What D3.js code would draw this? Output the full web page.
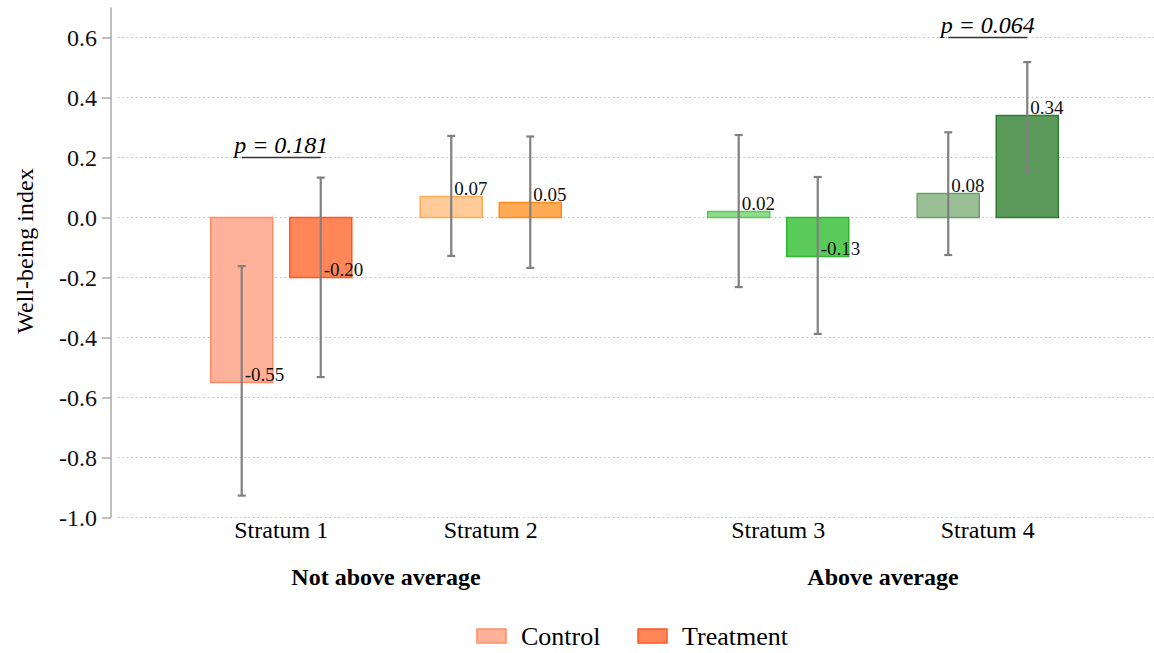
<!DOCTYPE html>
<html>
<head>
<meta charset="utf-8">
<script src="https://cdn.jsdelivr.net/npm/d3@7"></script>
<style>
  body { margin: 0; background: #fff; }
  svg, svg text { font-family: "Liberation Serif", "Times New Roman", Times, serif !important; }
</style>
</head>
<body>
<script>
// Data
const groups = ["Not above average", "Above average"];
const strata = [["Stratum 1", "Stratum 2"], ["Stratum 3", "Stratum 4"]];
const conditions = ["Control", "Treatment"];
const means = [[-0.55, -0.20], [0.07, 0.05], [0.02, -0.13], [0.08, 0.34]];
const ciLow = [[-0.927, -0.532], [-0.128, -0.168], [-0.232, -0.388], [-0.125, 0.153]];
const ciHigh = [[-0.162, 0.133], [0.272, 0.270], [0.275, 0.135], [0.284, 0.518]];
const fills = [["#ffb299", "#ff8659"], ["#ffcc99", "#ffaa55"], ["#8fdb8a", "#5acb5a"], ["#9abf96", "#5b9a5b"]];
const strokes = [["#ff8c66", "#ff5722"], ["#ffaa55", "#ff8c1a"], ["#5acb5a", "#2eb82e"], ["#6a9f66", "#2e7d32"]];
const pStratum = ["Stratum 1", "Stratum 4"];
const pLabels = ["0.181", "0.064"];
const pLevel = [0.2, 0.6];
const yTicks = [-1.0, -0.8, -0.6, -0.4, -0.2, 0.0, 0.2, 0.4, 0.6];

// Dimensions
const W = 1154, H = 653;
const axisX = 111;
const serif = "'Liberation Serif', 'Times New Roman', serif";

const svg = d3.select("body")
    .append("svg")
    .attr("width", W)
    .attr("height", H)
    .attr("font-family", serif);

const y = d3.scaleLinear()
    .domain([-1.0, 0.7])
    .range([517.5, 7.5]);

const xGroup = d3.scaleBand()
    .domain(groups)
    .range([137.5, 1131.5]);

const xStratum = d3.scaleBand()
    .range([0, xGroup.bandwidth()])
    .paddingOuter(0.186);

const xCond = d3.scaleBand()
    .domain(conditions)
    .range([0, 209.5])
    .paddingInner(0.215)
    .paddingOuter(0.433);

// flatten rows
const rows = [];
groups.forEach((g, gi) => {
    strata[gi].forEach((s, si) => {
        const k = gi * 2 + si;
        const sx = xGroup(g) + xStratum.domain(strata[gi])(s);
        conditions.forEach((c, ci) => {
            rows.push({
                stratum: s, cond: c,
                x: sx + xCond(c),
                mean: means[k][ci], lo: ciLow[k][ci], hi: ciHigh[k][ci],
                fill: fills[k][ci], stroke: strokes[k][ci]
            });
        });
    });
});
const stratumCenter = {};
groups.forEach((g, gi) => strata[gi].forEach(s => {
    stratumCenter[s] = xGroup(g) + xStratum.domain(strata[gi])(s) + xStratum.bandwidth() / 2;
}));

// Gridlines
svg.append("g")
    .selectAll("line")
    .data(yTicks)
    .join("line")
    .attr("x1", 118).attr("x2", W)
    .attr("y1", d => y(d)).attr("y2", d => y(d))
    .attr("stroke", "#bbb")
    .attr("stroke-width", 1)
    .attr("stroke-dasharray", "1.5,3");

// Y axis
const yAxis = svg.append("g")
    .attr("transform", `translate(${axisX},0)`)
    .call(d3.axisLeft(y).tickValues(yTicks).tickFormat(d3.format(".1f")).tickSize(9).tickPadding(5))
    .attr("font-family", serif);
yAxis.select(".domain").attr("stroke", "#aaa").attr("stroke-width", 1.5)
    .attr("d", `M0,${y(0.7)}V${y(-1.0)}`);
yAxis.selectAll(".tick line").attr("stroke", "#aaa").attr("stroke-width", 1.5);
yAxis.selectAll(".tick text")
    .attr("font-size", 24)
    .attr("fill", "#111")
    .text(d => d3.format(".1f")(d).replace("−", "-"));

svg.append("text")
    .attr("transform", `translate(33,251) rotate(-90)`)
    .attr("text-anchor", "middle")
    .attr("font-size", 24)
    .text("Well-being index");

// Bars
svg.append("g")
    .selectAll("rect")
    .data(rows)
    .join("rect")
    .attr("x", d => d.x)
    .attr("width", xCond.bandwidth())
    .attr("y", d => y(Math.max(0, d.mean)))
    .attr("height", d => Math.abs(y(d.mean) - y(0)))
    .attr("fill", d => d.fill)
    .attr("stroke", d => d.stroke)
    .attr("stroke-width", 1.5);

// Error bars
const eb = svg.append("g")
    .selectAll("g")
    .data(rows)
    .join("g")
    .attr("stroke", "#808080")
    .attr("stroke-width", 2.2);
eb.append("line")
    .attr("x1", d => d.x + xCond.bandwidth() / 2)
    .attr("x2", d => d.x + xCond.bandwidth() / 2)
    .attr("y1", d => y(d.lo)).attr("y2", d => y(d.hi));
eb.selectAll("line.cap")
    .data(d => [[d, d.lo], [d, d.hi]])
    .join("line")
    .attr("class", "cap")
    .attr("x1", d => d[0].x + xCond.bandwidth() / 2 - 4)
    .attr("x2", d => d[0].x + xCond.bandwidth() / 2 + 4)
    .attr("y1", d => y(d[1])).attr("y2", d => y(d[1]));

// Value labels
svg.append("g")
    .selectAll("text")
    .data(rows)
    .join("text")
    .attr("x", d => d.x + xCond.bandwidth() / 2 + 3)
    .attr("y", d => y(d.mean) - 2)
    .attr("font-size", 19)
    .attr("fill", "#111")
    .text(d => d3.format(".2f")(d.mean).replace("−", "-"));

// p-value brackets
pStratum.forEach((s, i) => {
    const c = stratumCenter[s];
    const x1 = c - xCond.step() / 2, x2 = c + xCond.step() / 2;
    svg.append("line")
        .attr("x1", x1).attr("x2", x2)
        .attr("y1", y(pLevel[i])).attr("y2", y(pLevel[i]))
        .attr("stroke", "#333").attr("stroke-width", 1.3);
    svg.append("text")
        .attr("x", c)
        .attr("y", y(pLevel[i]) - 5)
        .attr("text-anchor", "middle")
        .attr("font-size", 24)
        .attr("font-style", "italic")
        .text(`p = ${pLabels[i]}`);
});

// Stratum labels
svg.append("g")
    .selectAll("text")
    .data(Object.keys(stratumCenter))
    .join("text")
    .attr("x", d => stratumCenter[d])
    .attr("y", 538)
    .attr("text-anchor", "middle")
    .attr("font-size", 24)
    .text(d => d);

// Group labels
svg.append("g")
    .selectAll("text")
    .data(groups)
    .join("text")
    .attr("x", d => xGroup(d) + xGroup.bandwidth() / 2)
    .attr("y", 585)
    .attr("text-anchor", "middle")
    .attr("font-size", 24)
    .attr("font-weight", "bold")
    .text(d => d);

// Legend
const legendX = [477, 638];
const lg = svg.append("g")
    .selectAll("g")
    .data(conditions)
    .join("g")
    .attr("transform", (d, i) => `translate(${legendX[i]},629)`);
lg.append("rect")
    .attr("width", 29).attr("height", 14)
    .attr("fill", (d, i) => fills[0][i])
    .attr("stroke", (d, i) => strokes[0][i])
    .attr("stroke-width", 1.5);
lg.append("text")
    .attr("x", 44)
    .attr("y", 16)
    .attr("font-size", 26)
    .text(d => d);
</script>
</body>
</html>
